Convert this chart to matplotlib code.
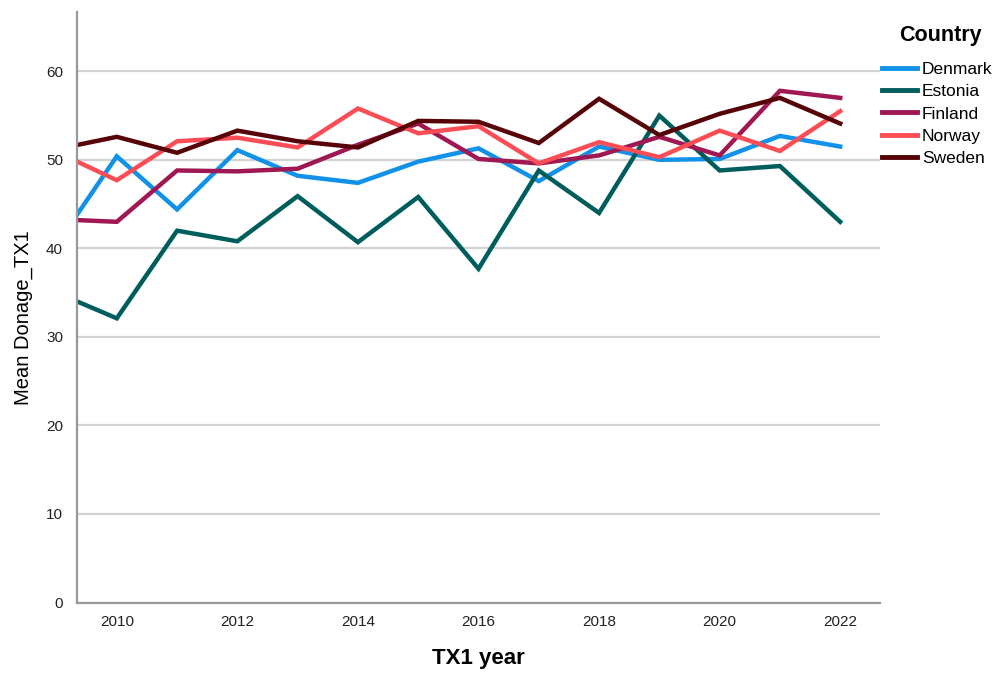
import matplotlib.pyplot as plt

plt.rcParams['font.family'] = ['Liberation Sans', 'DejaVu Sans']

# values (2009 is partly cut off by the axis)
years = [2009, 2010, 2011, 2012, 2013, 2014, 2015, 2016, 2017, 2018, 2019, 2020, 2021, 2022]
denmark = [40.4, 50.4, 44.4, 51.1, 48.2, 47.4, 49.8, 51.3, 47.6, 51.5, 50.0, 50.1, 52.7, 51.5]
estonia = [35.0, 32.1, 42.0, 40.8, 45.9, 40.7, 45.8, 37.7, 48.8, 44.0, 55.0, 48.8, 49.3, 43.0]
finland = [43.3, 43.0, 48.8, 48.7, 49.0, 51.7, 54.1, 50.1, 49.6, 50.5, 52.6, 50.5, 57.8, 57.0]
norway = [50.9, 47.7, 52.1, 52.5, 51.4, 55.8, 53.0, 53.8, 49.6, 52.0, 50.3, 53.3, 51.0, 55.5]
sweden = [51.2, 52.6, 50.8, 53.3, 52.1, 51.4, 54.4, 54.3, 51.9, 56.9, 52.8, 55.2, 57.0, 54.1]

countries = ["Denmark", "Estonia", "Finland", "Norway", "Sweden"]
series = [denmark, estonia, finland, norway, sweden]
colors = ["#1192e8", "#005d5d", "#9f1853", "#fa4d56", "#570408"]

fig = plt.figure(figsize=(9.97, 6.74), dpi=100)
ax = fig.add_axes([77 / 997, 71.5 / 674, (880 - 77) / 997, (602.5 - 12) / 674])

for name, vals, c in zip(countries, series, colors):
    ax.plot(years, vals, color=c, linewidth=3.2, label=name, solid_joinstyle='miter')

ax.set_xlim(2009.34, 2022.66)
ax.set_ylim(0, 66.7)
ax.set_xticks([2010, 2012, 2014, 2016, 2018, 2020, 2022])
ax.set_yticks([0, 10, 20, 30, 40, 50, 60])
ax.tick_params(length=0, labelsize=11, colors='#222222', pad=9)
ax.tick_params(axis='y', pad=10)

# horizontal gridlines
ax.grid(axis='y', color='#d3d3d3', linewidth=1.6)
ax.set_axisbelow(True)

for s in ['top', 'right']:
    ax.spines[s].set_visible(False)
for s in ['left', 'bottom']:
    ax.spines[s].set_color('#999999')
    ax.spines[s].set_linewidth(1.6)

ax.set_xlabel("TX1 year", fontsize=16, fontweight='bold', labelpad=14)
ax.set_ylabel("Mean Donage_TX1", fontsize=14.5)
ax.yaxis.set_label_coords(-0.067, 0.482)
ax.yaxis.label.set_va('center')

# legend title drawn separately so the gap to the entries matches
fig.text(940 / 997, 1 - 35 / 674, "Country", fontsize=15.5, fontweight='bold',
         ha='center', va='center')
leg = fig.legend(loc='upper left', bbox_to_anchor=(882 / 997, 1 - 61.5 / 674),
                 frameon=False, fontsize=12.5, handlelength=2.0, handletextpad=0.3,
                 labelspacing=0.42, borderaxespad=0, borderpad=0)
for line in leg.get_lines():
    line.set_linewidth(3.5)

plt.savefig("out.png", dpi=100)
